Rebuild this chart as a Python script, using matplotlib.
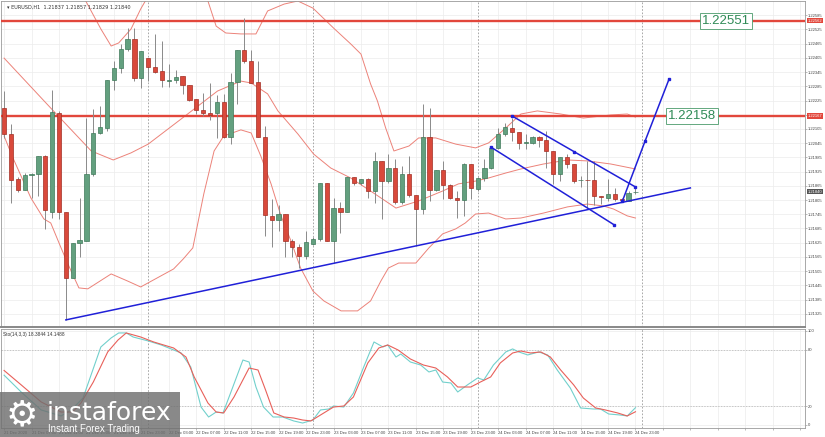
import numpy as np
import pandas as pd
import matplotlib
matplotlib.use('Agg')
import matplotlib.pyplot as plt
import matplotlib.transforms as mtransforms
from matplotlib.patches import Rectangle

# EURUSD H1 candles, 21 Dec 03:00 .. 24 Dec 23:00
opens = [1.22193, 1.22084, 1.21894, 1.21847, 1.21911, 1.21915, 1.21991, 1.21755, 1.22172, 1.21755,
         1.21476, 1.21624, 1.21632, 1.21915, 1.22088, 1.22109, 1.22312, 1.22362, 1.22442, 1.22485,
         1.22320, 1.22404, 1.22366, 1.22350, 1.22308, 1.22312, 1.22329, 1.22290, 1.22231, 1.22185,
         1.22172, 1.22172, 1.22219, 1.22071, 1.22303, 1.22438, 1.22392, 1.22303, 1.22071, 1.21738,
         1.21721, 1.21746, 1.21632, 1.21607, 1.21569, 1.21620, 1.21641, 1.21877, 1.21632, 1.21771,
         1.21755, 1.21902, 1.21877, 1.21894, 1.21843, 1.21970, 1.21885, 1.21940, 1.21797, 1.21915,
         1.21826, 1.21767, 1.22071, 1.21847, 1.21932, 1.21868, 1.21814, 1.21805, 1.21957, 1.21852,
         1.21898, 1.21940, 1.22025, 1.22084, 1.22109, 1.22092, 1.22046, 1.22046, 1.22071, 1.22058,
         1.22012, 1.21915, 1.21987, 1.21957, 1.21888, 1.21890, 1.21890, 1.21822, 1.21814, 1.21831,
         1.21809, 1.21801, 1.21837]
highs = [1.22265, 1.22126, 1.21902, 1.21919, 1.21919, 1.21991, 1.21995, 1.22269, 1.22181, 1.21755,
         1.21624, 1.21814, 1.22151, 1.22189, 1.22202, 1.22312, 1.22392, 1.22464, 1.22531, 1.22531,
         1.22434, 1.22404, 1.22506, 1.22476, 1.22379, 1.22354, 1.22329, 1.22290, 1.22231, 1.22257,
         1.22299, 1.22248, 1.22253, 1.22341, 1.22438, 1.22573, 1.22438, 1.22392, 1.22118, 1.21809,
         1.21784, 1.21746, 1.21641, 1.21620, 1.21674, 1.21649, 1.21877, 1.21877, 1.21814, 1.21797,
         1.21902, 1.21902, 1.21894, 1.21898, 1.22008, 1.21970, 1.21999, 1.21978, 1.21949, 1.21991,
         1.21826, 1.22210, 1.22193, 1.21932, 1.21970, 1.21873, 1.21843, 1.21961, 1.21957, 1.21902,
         1.21978, 1.22033, 1.22109, 1.22130, 1.22151, 1.22092, 1.22084, 1.22075, 1.22075, 1.22096,
         1.22012, 1.21987, 1.21999, 1.21957, 1.21907, 1.21970, 1.21970, 1.21822, 1.21894, 1.21856,
         1.21814, 1.21843, 1.21857]
lows = [1.22067, 1.21793, 1.21839, 1.21847, 1.21814, 1.21822, 1.21683, 1.21729, 1.21725, 1.21299,
        1.21476, 1.21565, 1.21632, 1.21907, 1.22084, 1.22096, 1.22269, 1.22341, 1.22434, 1.22307,
        1.22278, 1.22307, 1.22341, 1.22282, 1.22282, 1.22299, 1.22253, 1.22223, 1.22168, 1.22160,
        1.22143, 1.22067, 1.22067, 1.22041, 1.22210, 1.22383, 1.22299, 1.22071, 1.21653, 1.21607,
        1.21674, 1.21565, 1.21565, 1.21518, 1.21556, 1.21615, 1.21632, 1.21632, 1.21539, 1.21666,
        1.21755, 1.21868, 1.21868, 1.21814, 1.21793, 1.21725, 1.21877, 1.21788, 1.21788, 1.21818,
        1.21611, 1.21746, 1.21801, 1.21843, 1.21809, 1.21809, 1.21729, 1.21738, 1.21809, 1.21843,
        1.21885, 1.21936, 1.22021, 1.22075, 1.22054, 1.22021, 1.22021, 1.22041, 1.22029, 1.21940,
        1.21873, 1.21885, 1.21940, 1.21877, 1.21860, 1.21771, 1.21784, 1.21788, 1.21801, 1.21801,
        1.21801, 1.21801, 1.21829]
closes = [1.22084, 1.21890, 1.21847, 1.21911, 1.21915, 1.21991, 1.21763, 1.22177, 1.21755, 1.21476,
          1.21624, 1.21637, 1.21915, 1.22088, 1.22113, 1.22312, 1.22362, 1.22442, 1.22485, 1.22320,
          1.22434, 1.22366, 1.22345, 1.22312, 1.22312, 1.22324, 1.22290, 1.22227, 1.22185, 1.22172,
          1.22164, 1.22219, 1.22071, 1.22303, 1.22438, 1.22392, 1.22299, 1.22071, 1.21742, 1.21721,
          1.21746, 1.21632, 1.21607, 1.21569, 1.21628, 1.21641, 1.21877, 1.21632, 1.21771, 1.21755,
          1.21902, 1.21877, 1.21894, 1.21843, 1.21970, 1.21885, 1.21940, 1.21797, 1.21915, 1.21826,
          1.21767, 1.22071, 1.21847, 1.21932, 1.21868, 1.21814, 1.21805, 1.21957, 1.21856, 1.21898,
          1.21940, 1.22025, 1.22084, 1.22113, 1.22092, 1.22046, 1.22050, 1.22071, 1.22058, 1.22012,
          1.21915, 1.21987, 1.21957, 1.21885, 1.21890, 1.21888, 1.21822, 1.21818, 1.21831, 1.21809,
          1.21805, 1.21835, 1.21840]

# Bollinger bands (bar index, price)
bb_up_i = [0, 5.4, 9.8, 11.9, 14.1, 15.6, 16.7, 18.5, 19.9, 21.0, 22.9, 25.8, 27.9, 29.7, 30.9, 32.3,
           34.5, 36.7, 38.4, 40.8, 42.8, 45.0, 48.0, 50.5, 52.0, 53.4, 54.4, 55.6, 56.8, 59.0, 60.4,
           62.9, 65.8, 68.7, 70.6, 73.1, 75.3, 77.7, 81.1, 84.4, 88.4, 90.8, 92.0]
bb_up = [1.23109, 1.22919, 1.22751, 1.22645, 1.22527, 1.22455, 1.22468, 1.22527, 1.22611, 1.22666,
         1.22751, 1.22793, 1.22729, 1.22645, 1.22539, 1.22510, 1.22506, 1.22506, 1.22603, 1.22632,
         1.22645, 1.22615, 1.22531, 1.22464, 1.22421, 1.22295, 1.22223, 1.22109, 1.22012, 1.22033,
         1.22067, 1.22067, 1.22041, 1.22025, 1.22046, 1.22109, 1.22168, 1.22181, 1.22168, 1.22151,
         1.22164, 1.22168, 1.22155]
bb_mid_i = [0, 6.8, 12.7, 15.9, 18.5, 21.0, 25.8, 31.1, 34.5, 36.0, 38.4, 39.9, 42.8, 45.1, 47.6,
            50.5, 53.4, 57.1, 60.4, 63.9, 66.2, 68.7, 70.6, 73.1, 75.3, 78.6, 82.1, 85.0, 88.4, 92.0]
bb_mid = [1.22404, 1.22193, 1.22012, 1.21974, 1.22004, 1.22041, 1.22147, 1.22265, 1.22307, 1.22299,
          1.22253, 1.22181, 1.22084, 1.21999, 1.21940, 1.21898, 1.21843, 1.21771, 1.21801, 1.21843,
          1.21873, 1.21885, 1.21898, 1.21919, 1.21936, 1.21957, 1.21974, 1.21970, 1.21957, 1.21936]
bb_lo_i = [0, 1.3, 3.9, 5.8, 6.8, 8.3, 9.3, 10.9, 12.2, 15.6, 18.0, 19.9, 24.7, 26.1, 27.5, 29.1,
           30.6, 32.0, 34.5, 36.0, 37.4, 38.9, 40.3, 41.8, 43.2, 45.0, 46.6, 49.1, 51.5, 53.4, 54.9,
           56.0, 57.5, 60.0, 61.9, 63.9, 65.8, 67.2, 68.7, 70.6, 73.1, 75.3, 78.6, 82.1, 85.0, 87.3,
           88.8, 90.8, 92.0]
bb_lo = [1.22075, 1.21982, 1.21814, 1.21725, 1.21708, 1.21603, 1.21535, 1.21434, 1.21430, 1.21493,
         1.21463, 1.21438, 1.21514, 1.21556, 1.21603, 1.21831, 1.22012, 1.22075, 1.22101, 1.22088,
         1.21991, 1.21873, 1.21742, 1.21632, 1.21518, 1.21421, 1.21379, 1.21337, 1.21337, 1.21379,
         1.21463, 1.21518, 1.21539, 1.21539, 1.21603, 1.21662, 1.21683, 1.21708, 1.21746, 1.21750,
         1.21725, 1.21729, 1.21750, 1.21776, 1.21788, 1.21780, 1.21767, 1.21738, 1.21729]

# Stochastic (14,3,3)
sto_k_i = [0, 2.5, 5.4, 8.3, 9.8, 11.5, 14.1, 15.6, 16.7, 17.8, 18.8, 21.0, 22.9, 25.8, 27.2, 28.7,
           29.8, 30.9, 31.9, 33.0, 34.8, 35.7, 36.7, 37.8, 39.2, 40.6, 42.2, 43.5, 45.0, 46.1, 47.3,
           48.0, 49.5, 50.9, 52.4, 53.9, 55.2, 55.9, 57.1, 57.8, 59.2, 60.7, 61.9, 62.9, 63.9, 65.1,
           66.1, 67.5, 69.0, 69.9, 71.3, 73.1, 74.1, 75.0, 76.3, 77.9, 79.2, 80.6, 82.5, 84.0, 85.9,
           86.9, 88.1, 89.8, 90.8, 92.0]
sto_k = [53, 35, 16, 9.6, 16, 28.7, 83.0, 92.6, 97.9, 97.9, 93.6, 89.4, 85.1, 76.6, 61.7, 19.1,
         8.5, 13.8, 12.8, 34.0, 69.1, 67.0, 40.4, 19.1, 8.5, 8.5, 4.3, 2.1, 5.3, 16.0, 17.0,
         20.2, 19.1, 34.0, 61.7, 88.3, 83.0, 85.1, 72.3, 75.5, 67.0, 63.8, 56.4, 58.5, 45.7, 44.7,
         35.1, 42.6, 50.0, 47.9, 63.8, 77.7, 80.9, 77.7, 74.5, 77.7, 74.5, 58.5, 39.4, 18.1, 17.0,
         17.0, 11.7, 10.6, 9.6, 18.4]
sto_d_i = [0, 2.5, 5.4, 8.3, 10.0, 11.2, 13.0, 15.1, 16.6, 17.8, 19.9, 21.8, 24.7, 26.5, 27.7, 29.7,
           30.9, 32.0, 33.5, 35.7, 37.0, 38.1, 39.3, 40.8, 42.2, 43.5, 44.7, 46.1, 48.0, 49.5, 50.9,
           53.0, 54.6, 55.9, 57.4, 59.2, 61.1, 62.9, 64.6, 66.1, 68.0, 69.4, 70.9, 72.3, 74.1, 75.3,
           76.7, 78.2, 79.6, 81.1, 83.0, 84.4, 86.2, 87.6, 89.4, 90.8, 92.0]
sto_d = [58, 42.6, 24.5, 13.8, 13.8, 23.4, 45.7, 77.7, 90.4, 97.9, 93.6, 88.3, 81.9, 72.3, 51.1, 23.4,
         13.8, 12.8, 29.8, 60.6, 58.5, 37.2, 12.8, 8.5, 7.4, 5.3, 4.3, 10.6, 19.1, 20.2, 29.8,
         66.0, 81.9, 85.1, 79.8, 70.2, 63.8, 60.6, 51.1, 40.4, 40.4, 45.7, 51.1, 66.0, 76.6, 78.7,
         76.6, 77.7, 72.3, 58.5, 42.6, 28.7, 18.1, 16.0, 12.8, 9.6, 14.1]

# drawn objects
levels = [1.22562, 1.22160]
level_tags = ['1.22562', '1.22167']
level_notes = ['1.22551', '1.22158']
support_i = [9, 100]
support = [1.21299, 1.21856]
chan_top_i = [74, 83, 92]
chan_top = [1.22160, 1.22008, 1.21860]
chan_bot_i = [70.9, 88.9]
chan_bot = [1.22029, 1.21700]
proj_i = [90.1, 93.4, 96.9]
proj = [1.21801, 1.22054, 1.22316]

times = pd.date_range('2020-12-21 03:00', periods=len(opens), freq='h')

small = ['Liberation Sans', 'DejaVu Sans']
W, H = 825, 437
fig = plt.figure(figsize=(W / 100, H / 100), dpi=100)
ax = fig.add_axes([1 / W, 1 - 327 / H, 804 / W, 326 / H])
axs = fig.add_axes([1 / W, 9 / H, 804 / W, 99 / H])

xmin, xmax = -0.45, 116.7
idx = np.arange(len(opens))
o = np.array(opens); c = np.array(closes)
up = c >= o

# grid
price_ticks = np.arange(1.21325, 1.2260, 0.0006)
for a in (ax, axs):
    a.set_xlim(xmin, xmax)
    a.set_xticks(np.arange(0, xmax, 4))
    a.grid(True, color='#ececec', lw=0.5)
    a.set_axisbelow(True)
    for s in a.spines.values():
        s.set_color('#9a9a9a')
        s.set_linewidth(0.6)
    for d in (21, 45, 69, 93):
        a.axvline(d, color='#9a9a9a', lw=0.6, ls=(0, (2, 2)), zorder=1)

ax.set_ylim(1.21269, 1.22645)
ax.set_yticks(price_ticks)
ax.yaxis.tick_right()
# labels hidden under the tags are left blank
ax.set_yticklabels(['' if min(abs(p - 1.22160), abs(p - closes[-1])) < 0.0001 else f'{p:.5f}'
                    for p in price_ticks], family=small)
ax.tick_params(axis='y', labelsize=3.0, length=1.5, width=0.4, color='#888', labelcolor='#444', pad=0.6)
ax.tick_params(axis='x', length=0, labelbottom=False)
ax.spines['bottom'].set_color('#888')
ax.spines['bottom'].set_linewidth(1.4)

# bollinger
bb_col = '#ec8279'
ax.plot(bb_up_i, bb_up, color=bb_col, lw=0.7, zorder=2)
ax.plot(bb_mid_i, bb_mid, color=bb_col, lw=0.7, zorder=2)
ax.plot(bb_lo_i, bb_lo, color=bb_col, lw=0.7, zorder=2)

# horizontal levels
for lv in levels:
    ax.axhline(lv, color='#e2473c', lw=1.7, zorder=3)

# candles
ax.vlines(idx, lows, highs, color='#8a8a8a', lw=0.7, zorder=4)
body_lo = np.minimum(o, c)
body_h = np.maximum(np.abs(c - o), 0.000015)
ax.bar(idx, body_h, bottom=body_lo, width=0.62,
       color=np.where(up, '#63a07f', '#d9493b'),
       edgecolor=np.where(up, '#3f7a5a', '#a32e24'), lw=0.5, zorder=5)

# trend lines
blue = '#2020d8'
ax.plot(support_i, support, color=blue, lw=1.1, zorder=6)
ax.plot([chan_top_i[0], chan_top_i[-1]], [chan_top[0], chan_top[-1]], color=blue, lw=1.1, zorder=6)
ax.plot(chan_top_i, chan_top, 's', color=blue, ms=1.6, zorder=7)
ax.plot(chan_bot_i, chan_bot, color=blue, lw=1.1, marker='s', ms=1.6, zorder=6)
ax.plot(proj_i, proj, color=blue, lw=1.1, marker='s', ms=1.6, zorder=6)

# level notes
ax.text(105.2, levels[0], level_notes[0], family=small, fontsize=9.5, color='#2f8a56',
        ha='center', va='center', zorder=8,
        bbox=dict(boxstyle='square,pad=0.15', fc='white', ec='#4a9a6a', lw=0.6))
ax.text(100.3, levels[1], level_notes[1], family=small, fontsize=9.5, color='#2f8a56',
        ha='center', va='center', zorder=8,
        bbox=dict(boxstyle='square,pad=0.15', fc='white', ec='#4a9a6a', lw=0.6))

# price tags on the right scale
tr = mtransforms.blended_transform_factory(ax.transAxes, ax.transData)
for lv, tag in zip(levels, level_tags):
    ax.text(1.003, lv, tag, transform=tr, family=small, fontsize=3.0, color='white',
            va='center', ha='left', zorder=9, clip_on=False,
            bbox=dict(boxstyle='square,pad=0.15', fc='#e2473c', ec='none'))
ax.text(1.003, closes[-1], f'{closes[-1]:.5f}', transform=tr, family=small, fontsize=3.0,
        color='white', va='center', ha='left', zorder=9, clip_on=False,
        bbox=dict(boxstyle='square,pad=0.15', fc='#555555', ec='none'))

ax.text(0.008, 0.988, f'\u25be EURUSD,H1  {opens[-1]:.5f} {highs[-1]:.5f} {lows[-1]:.5f} {closes[-1]:.5f}',
        transform=ax.transAxes, fontsize=3.6, color='#333', va='top', ha='left')

# stochastic panel
axs.set_ylim(-3.2, 102.1)
axs.set_yticks([0, 20, 80, 100])
axs.yaxis.tick_right()
axs.tick_params(axis='y', labelsize=3.0, length=1.5, width=0.4, color='#888', labelcolor='#444', pad=0.6)
for lab in axs.get_yticklabels():
    lab.set_family(small)
for lv in (20, 80):
    axs.axhline(lv, color='#b5b5b5', lw=0.5, ls=(0, (2, 2)))
axs.plot(sto_k_i, sto_k, color='#72d0cc', lw=0.8)
axs.plot(sto_d_i, sto_d, color='#e8605a', lw=0.8)
axs.text(0.002, 0.965, 'Sto(14,3,3) 18.3844 14.1488', family=small,
         transform=axs.transAxes, fontsize=3.4, color='#333', va='top', ha='left')

xt = np.arange(0, xmax, 4)
xl = []
for t in xt:
    if t == 0:
        xl.append(times[0].strftime('%d %b %Y'))
    elif t < len(times):
        xl.append(times[int(t)].strftime('%d %b %H:%M'))
    else:
        xl.append('')
axs.set_xticklabels(xl, family=small)
axs.tick_params(axis='x', labelsize=3.0, length=1.5, width=0.4, color='#888', labelcolor='#444', pad=0.8)
for lab in axs.get_xticklabels():
    lab.set_horizontalalignment('left')

# logo
fig.patches.append(Rectangle((0, 0), 180 / W, 45 / H, transform=fig.transFigure,
                             fc='#6f6f6f', ec='none', alpha=0.82, zorder=10))
fig.text(6 / W, 22 / H, '\u2699', fontsize=26, color='white', va='center', ha='left', zorder=11)
fig.text(47 / W, 17 / H, 'instaforex', fontsize=18, color='white', va='baseline', ha='left', zorder=11)
fig.text(48 / W, 5 / H, 'Instant Forex Trading', family=small, fontsize=7.0, color='white',
         va='baseline', ha='left', zorder=11)

fig.savefig('out.png', dpi=100, facecolor='white')
